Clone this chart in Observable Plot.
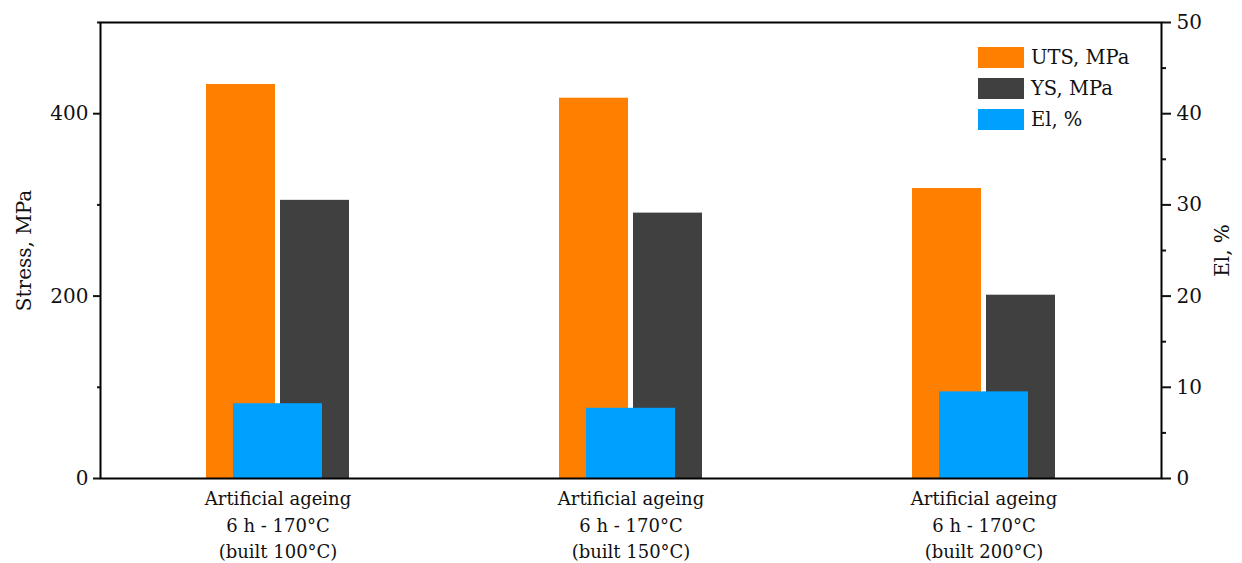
<!DOCTYPE html>
<html>
<head>
<meta charset="utf-8">
<script src="https://cdn.jsdelivr.net/npm/d3@7"></script>
<script src="https://cdn.jsdelivr.net/npm/@observablehq/plot@0.6"></script>
<style>
  body { margin: 0; background: #fff; }
  #chart { position: relative; width: 1242px; height: 563px; font-family: "DejaVu Serif", serif; }
  .legend { position: absolute; left: 978px; top: 42px; }
  .legend .row { display: flex; align-items: center; height: 31px; }
  .legend .sw { width: 46px; height: 21px; margin-right: 7px; }
  .legend span { font-size: 19.5px; color: #111; line-height: 1; }
</style>
</head>
<body>
<div id="chart"></div>
<script>
// Heat-treatment conditions (one group of bars each)
const categories = [
  "Artificial ageing\n6 h - 170°C\n(built 100°C)",
  "Artificial ageing\n6 h - 170°C\n(built 150°C)",
  "Artificial ageing\n6 h - 170°C\n(built 200°C)"
];
// Ultimate tensile strength, MPa
const uts = [432, 417, 318];
// Yield strength, MPa
const ys = [305, 291, 201];
// Elongation at break, %
const el = [8.2, 7.7, 9.5];

// Axis ticks
const stressTicks = [0, 200, 400];
const stressMinor = [100, 300, 500];
const elTicks = [0, 10, 20, 30, 40, 50];
const elMinor = [5, 15, 25, 35, 45];

const seriesNames = ["UTS, MPa", "YS, MPa", "El, %"];
const seriesColors = ["#ff8000", "#404040", "#00a0ff"];

// Elongation is drawn against the stress scale: 1 % spans 10 MPa of height
const EL_FACTOR = 10;

const rows = categories.map((c, i) => ({ category: c, uts: uts[i], ys: ys[i], el: el[i] }));

const chart = Plot.plot({
  width: 1242,
  height: 563,
  marginTop: 22,
  marginBottom: 85,
  marginLeft: 100,
  marginRight: 81,
  style: { fontFamily: "DejaVu Serif", fontSize: "20px", color: "#111", background: "#fff" },
  x: { domain: categories, paddingInner: 0.5957, paddingOuter: 0.29785 },
  y: { domain: [0, 500] },
  marks: [
    Plot.barY(rows, { x: "category", y: "uts", fill: seriesColors[0], insetRight: 74 }),
    Plot.barY(rows, { x: "category", y: "ys", fill: seriesColors[1], insetLeft: 74 }),
    Plot.barY(rows, { x: "category", y: d => d.el * EL_FACTOR, fill: seriesColors[2], insetLeft: 27, insetRight: 27 }),
    Plot.frame({ stroke: "#000", strokeWidth: 2 }),
    Plot.axisY(stressTicks, {
      anchor: "left", tickSize: 7, tickPadding: 5, fontSize: 20, strokeWidth: 2,
      label: "Stress, MPa", labelAnchor: "center", labelOffset: 84, labelArrow: "none"
    }),
    Plot.axisY(stressMinor, { anchor: "left", tickSize: 3, strokeWidth: 2, tickFormat: () => "", label: null }),
    Plot.axisY(elTicks.map(v => v * EL_FACTOR), {
      anchor: "right", tickSize: 9, tickPadding: 6, fontSize: 20, strokeWidth: 2,
      tickFormat: v => String(v / EL_FACTOR),
      label: "El, %", labelAnchor: "center", labelOffset: 67, labelArrow: "none"
    }),
    Plot.axisY(elMinor.map(v => v * EL_FACTOR), { anchor: "right", tickSize: 4, strokeWidth: 2, tickFormat: () => "", label: null }),
    Plot.axisX({ tickSize: 0, tickPadding: 8, fontSize: 18, lineHeight: 1.47, label: null })
  ]
});

const host = document.getElementById("chart");
host.appendChild(chart);

// Legend in the upper-right corner of the plot area
const legend = document.createElement("div");
legend.className = "legend";
seriesNames.forEach((name, i) => {
  const row = document.createElement("div");
  row.className = "row";
  const sw = document.createElement("div");
  sw.className = "sw";
  sw.style.background = seriesColors[i];
  const label = document.createElement("span");
  label.textContent = name;
  row.appendChild(sw);
  row.appendChild(label);
  legend.appendChild(row);
});
host.appendChild(legend);
</script>
</body>
</html>
